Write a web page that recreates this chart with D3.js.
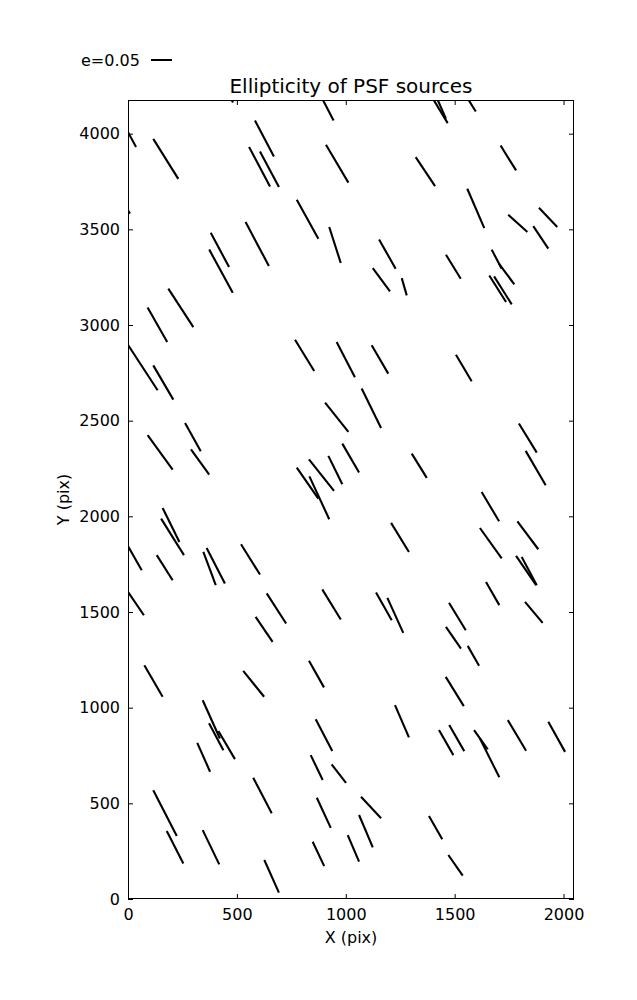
<!DOCTYPE html>
<html>
<head>
<meta charset="utf-8">
<script src="https://cdn.jsdelivr.net/npm/d3@7"></script>
<style>
  body { margin: 0; background: #fff; }
  text { font-family: "DejaVu Sans", sans-serif; fill: #000; }
</style>
</head>
<body>
<svg id="chart" width="637" height="1000"></svg>
<script>
// Segment start / end points in detector pixel coordinates
const xStart = [464,882,1391,1419,1557,-9,116,583,556,606,909,1321,1711,-18,775,924,540,380,373,185,90,-9,116,767,958,1119,1506,905,1073,90,262,289,984,775,831,920,833,159,152,-5,132,346,361,519,-5,637,892,586,1303,1795,1826,1624,1208,1616,1788,1782,1808,1644,1823,1139,1191,1474,1460,1560,1459,1226,1428,1475,1589,1616,1744,1930,1070,1061,1009,1382,1471,75,529,831,343,415,372,318,862,839,935,575,116,178,343,867,848,626,1153,1124,1257,1460,1670,1704,1659,1681,1558,1746,1887,1861];
const yStart = [4205,4205,4200,4184,4189,4027,3973,4069,3930,3907,3942,3877,3938,3635,3655,3512,3538,3482,3394,3190,3091,2912,2789,2923,2911,2894,2845,2594,2668,2424,2488,2350,2380,2255,2298,2316,2209,2044,1988,1854,1797,1814,1835,1854,1614,1597,1618,1475,2328,2485,2342,2127,1966,1939,1974,1793,1788,1657,1553,1602,1574,1548,1422,1323,1161,1013,883,909,883,839,935,926,534,439,334,434,230,1222,1192,1245,1039,878,918,816,939,752,704,634,568,355,360,529,299,204,3447,3297,3245,3367,3394,3320,3259,3254,3712,3576,3613,3517];
const xEnd = [482,944,1468,1460,1597,37,231,670,652,693,1012,1410,1782,9,874,977,647,464,481,300,180,136,208,855,1042,1195,1578,1012,1162,205,334,373,1061,874,946,984,924,236,257,63,205,403,445,606,73,726,977,664,1372,1877,1918,1704,1290,1716,1884,1874,1877,1705,1904,1211,1264,1551,1529,1612,1542,1290,1494,1544,1652,1705,1828,2007,1162,1124,1061,1443,1537,159,625,900,422,491,438,377,938,894,1001,660,224,254,419,931,901,693,1229,1203,1280,1528,1716,1774,1736,1762,1636,1834,1971,1930];
const yEnd = [4163,4069,4055,4079,4116,3930,3764,3881,3724,3721,3744,3726,3808,3582,3451,3324,3308,3303,3169,2989,2911,2659,2610,2760,2727,2746,2706,2441,2462,2244,2340,2218,2229,2093,2133,2168,1985,1866,1797,1718,1666,1640,1649,1696,1483,1440,1461,1344,2201,2333,2162,1974,1814,1780,1828,1640,1640,1536,1443,1457,1391,1405,1309,1219,1008,845,752,773,782,636,775,769,422,270,195,312,122,1057,1057,1106,839,731,778,665,773,622,607,448,329,186,181,372,172,33,3294,3176,3155,3242,3294,3212,3120,3108,3506,3486,3512,3399];

const xTicks = [0, 500, 1000, 1500, 2000];
const yTicks = [0, 500, 1000, 1500, 2000, 2500, 3000, 3500, 4000];
const xDomain = [0, 2048];
const yDomain = [0, 4176];
const keyE = 0.05;
const keyLabel = "e=0.05";
const titleText = "Ellipticity of PSF sources";
const xLabel = "X (pix)";
const yLabel = "Y (pix)";

(function () {
const svg = d3.select("#chart");
const L = 128, R = 574, T = 100, B = 899;
const x = d3.scaleLinear().domain(xDomain).range([L, R]);
const y = d3.scaleLinear().domain(yDomain).range([B, T]);
const keyScale = d3.scaleLinear().domain([0, keyE]).range([0, 21]);
const fmt = d3.format("d");

svg.append("defs").append("clipPath").attr("id", "clip")
  .append("rect").attr("x", L).attr("y", T).attr("width", R - L).attr("height", B - T);

const segs = xStart.map((d, i) => ({x0: d, y0: yStart[i], x1: xEnd[i], y1: yEnd[i]}));
svg.append("g").attr("clip-path", "url(#clip)")
  .selectAll("line").data(segs).join("line")
  .attr("x1", d => x(d.x0)).attr("y1", d => y(d.y0))
  .attr("x2", d => x(d.x1)).attr("y2", d => y(d.y1))
  .attr("stroke", "#000").attr("stroke-width", 2.1);

const tl = 5;
const axB = d3.axisBottom(x).tickValues(xTicks).tickFormat(fmt).tickSizeInner(-tl).tickSizeOuter(0).tickPadding(10);
const axT = d3.axisTop(x).tickValues(xTicks).tickSizeInner(-tl).tickSizeOuter(0).tickFormat("");
const axL = d3.axisLeft(y).tickValues(yTicks).tickFormat(fmt).tickSizeInner(-tl).tickSizeOuter(0).tickPadding(8);
const axR = d3.axisRight(y).tickValues(yTicks).tickSizeInner(-tl).tickSizeOuter(0).tickFormat("");

function styleAxis(g) {
  g.select(".domain").remove();
  g.selectAll("line").attr("stroke", "#000").attr("stroke-width", 1);
  g.selectAll("text").attr("font-size", 16).attr("font-family", "DejaVu Sans").attr("fill", "#000");
}
svg.append("g").attr("transform", `translate(0,${B})`).call(axB).call(styleAxis);
svg.append("g").attr("transform", `translate(0,${T})`).call(axT).call(styleAxis);
svg.append("g").attr("transform", `translate(${L},0)`).call(axL).call(styleAxis);
svg.append("g").attr("transform", `translate(${R},0)`).call(axR).call(styleAxis);

svg.append("rect").attr("x", L + 0.5).attr("y", T + 0.5).attr("width", R - L - 1).attr("height", B - T - 1)
  .attr("fill", "none").attr("stroke", "#000").attr("stroke-width", 1);

svg.append("text").attr("x", (L + R) / 2).attr("y", 93).attr("text-anchor", "middle")
  .attr("font-size", 20).text(titleText);
svg.append("text").attr("x", (L + R) / 2).attr("y", 943).attr("text-anchor", "middle")
  .attr("font-size", 16).text(xLabel);
svg.append("text").attr("transform", `translate(69,${(T + B) / 2}) rotate(-90)`).attr("text-anchor", "middle")
  .attr("font-size", 16).text(yLabel);

svg.append("text").attr("x", 81).attr("y", 66).attr("font-size", 16).text(keyLabel);
svg.append("line").attr("x1", 151).attr("x2", 151 + keyScale(keyE)).attr("y1", 60).attr("y2", 60)
  .attr("stroke", "#000").attr("stroke-width", 2);
})();
</script>
</body>
</html>
